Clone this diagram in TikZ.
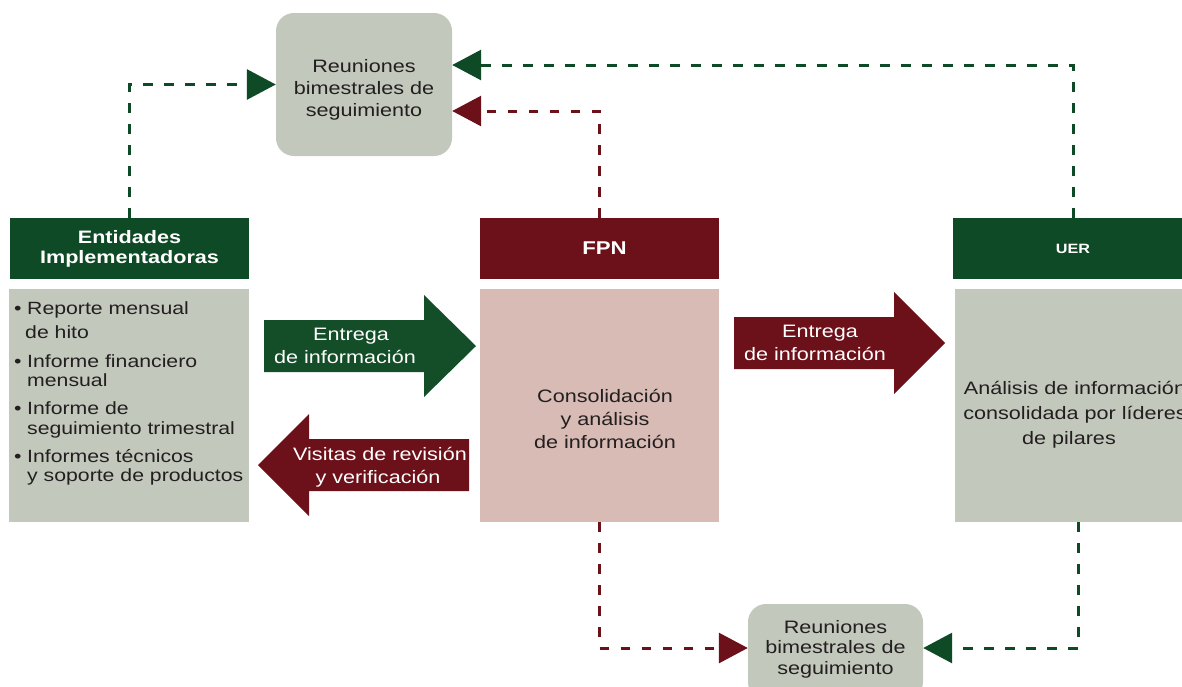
\documentclass[tikz,border=0pt]{standalone}
\usepackage{fontspec}
\setmainfont[FakeStretch=1.2]{Liberation Sans}
\usetikzlibrary{arrows.meta,calc}
\definecolor{dgreen}{HTML}{0E4A25}
\definecolor{agreen}{HTML}{134E29}
\definecolor{dred}{HTML}{6C1019}
\definecolor{sage}{HTML}{C2C8BC}
\definecolor{rose}{HTML}{D7BBB4}
\definecolor{ink}{HTML}{231F20}
\begin{document}
\begin{tikzpicture}[x=1pt,y=-1pt,
  txt/.style={font=\fontsize{18}{22}\selectfont, text=ink, align=center, inner sep=0pt},
  meet/.style={rectangle, rounded corners=18pt, fill=sage, minimum width=176pt, inner sep=0pt},
  head/.style={rectangle, minimum height=61pt, inner sep=0pt, text=white, align=center},
  panel/.style={rectangle, minimum height=233pt, inner sep=0pt},
  wtxt/.style={font=\fontsize{18}{22.5}\selectfont, text=white, align=center, inner sep=0pt},
  gconn/.style={draw=dgreen, line width=3pt, dash pattern=on 9.5pt off 11.5pt, -{Triangle[length=29pt,width=30pt]}},
  rconn/.style={draw=dred, line width=3pt, dash pattern=on 9.5pt off 11.5pt, -{Triangle[length=29pt,width=30pt]}}
]
\useasboundingbox (0,0) rectangle (1182,686);
\clip (0,0) rectangle (1182,686);

% meeting boxes
\node[meet, minimum height=143pt] (top) at (364,84.5) {};
\node[txt] (toptext) at (364,90) {Reuniones\\bimestrales de\\seguimiento};
\node[meet, minimum width=175pt, minimum height=96pt] (bot) at (835.5,652) {};
\node[txt, font=\fontsize{18}{20.5}\selectfont] (bottext) at (835.5,649) {Reuniones\\bimestrales de\\seguimiento};

% headers
\node[head, fill=dgreen, minimum width=239pt, font=\bfseries\fontsize{18}{20}\selectfont] (ehead) at (129.5,248.5) {Entidades\\Implementadoras};
\node[head, fill=dred, minimum width=239pt, font=\bfseries\fontsize{18.5}{20}\selectfont] (fhead) at (599.5,248.5) {\hspace*{10pt}FPN};
\node[head, fill=dgreen, minimum width=240pt, font=\bfseries\fontsize{13.5}{16}\selectfont] (uhead) at (1073,248.5) {UER};

% panels
\node[panel, fill=sage, minimum width=240pt] (ebody) at (129,405.5) {};
\node[panel, fill=rose, minimum width=239pt] (fbody) at (599.5,405.5) {};
\node[panel, fill=sage, minimum width=238pt] (ubody) at (1074,405.5) {};

% panel texts
\node[anchor=north west, inner sep=0pt, align=left, text=ink, font=\fontsize{17.7}{19.5}\selectfont] (elist) at (14,301)
{\makebox[13pt][l]{\textbullet}Reporte mensual\\[4.5pt]
 \hspace*{11pt}de hito\\[9.5pt]
 \makebox[13pt][l]{\textbullet}Informe financiero\\
 \hspace*{13pt}mensual\\[8.5pt]
 \makebox[13pt][l]{\textbullet}Informe de\\
 \hspace*{13pt}seguimiento trimestral\\[8.5pt]
 \makebox[13pt][l]{\textbullet}Informes técnicos\\
 \hspace*{13pt}y soporte de productos};
\node[txt, font=\fontsize{18}{23}\selectfont] (ftext) at (605,419) {Consolidación\\y análisis\\de información};
\node[txt, font=\fontsize{18}{25}\selectfont] (utext) at (1075,415) {Análisis de información\\consolidada por líderes\\de pilares\hspace*{12pt}};

% block arrows
\fill[agreen] (264,320) -- (424,320) -- (424,295) -- (476,346) -- (424,397) -- (424,372) -- (264,372) -- cycle;
\node[wtxt] (ent1) at (345,346) {\hspace*{12pt}Entrega\\de información};
\fill[dred] (469,439) -- (309,439) -- (309,414) -- (258,465) -- (309,516) -- (309,491) -- (469,491) -- cycle;
\node[wtxt] (vis) at (380,467) {Visitas de revisión\\y verificación\hspace*{4pt}};
\fill[dred] (734,317) -- (894,317) -- (894,292) -- (945,343) -- (894,394) -- (894,369) -- (734,369) -- cycle;
\node[wtxt] (ent2) at (815,343) {\hspace*{10pt}Entrega\\de información};

% dashed connectors
\draw[gconn] (ehead.north) |- (top.west);
\draw[gconn] (uhead.north) |- ([yshift=19.5pt]top.east);
\draw[rconn] (fhead.north) |- ([yshift=-26.5pt]top.east);
\draw[rconn] (fbody.south) |- ([yshift=4pt]bot.west);
\draw[gconn] ([xshift=4pt]ubody.south) |- ([yshift=4pt]bot.east);
\end{tikzpicture}
\end{document}
